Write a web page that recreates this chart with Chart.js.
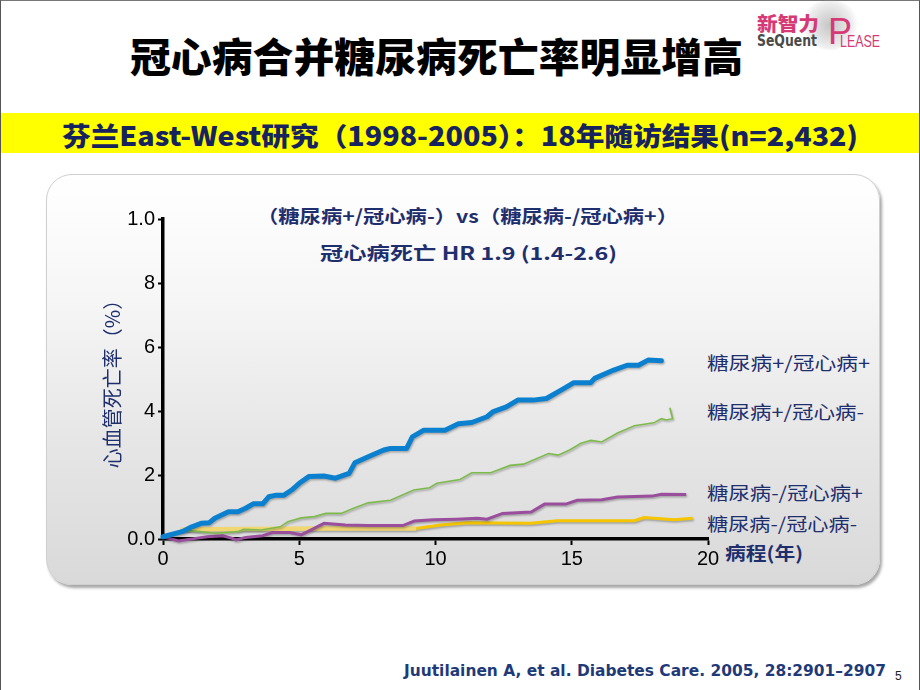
<!DOCTYPE html>
<html>
<head>
<meta charset="utf-8">
<script src="https://cdn.jsdelivr.net/npm/chart.js@4.4.1/dist/chart.umd.min.js"></script>
<style>
  html,body{margin:0;padding:0;}
  body{width:920px;height:690px;position:relative;overflow:hidden;background:#fff;font-family:"Noto Sans CJK SC","Noto Sans",sans-serif;}
  .frame{position:absolute;left:0;top:0;width:918px;height:690px;border-left:1px solid #555;border-right:1px solid #555;border-top:1px solid #777;box-sizing:content-box;}
  .t{position:absolute;white-space:nowrap;line-height:1;}
  #title{left:130px;top:35px;font-size:40px;font-weight:900;color:#000;}
  #banner{position:absolute;left:1px;top:113px;width:918px;height:40px;background:#ffff00;}
  #bannerText{left:62px;top:122px;font-size:26px;font-weight:900;color:#16235f;}
  #panel{position:absolute;left:46px;top:174px;width:832px;height:409px;border-radius:26px;
     background:linear-gradient(#ffffff 0%,#f6f6f6 30%,#e6e6e6 65%,#d9d9d9 100%);
     border:1px solid #cfcfcf;box-shadow:2px 3px 3px rgba(0,0,0,0.35);}
  #cv{position:absolute;left:0;top:0;}
  .ann{font-size:18px;font-weight:700;color:#1f2f6e;}
  .lab{font-size:18px;color:#1f2f6e;}
  #foot{left:404px;top:664px;font-size:15px;font-weight:700;color:#1f3a78;font-family:"DejaVu Sans",sans-serif;}
  #pg{left:895px;top:670px;font-size:12px;color:#222;font-family:"Liberation Sans",sans-serif;}
  #logoDots{position:absolute;left:800px;top:0px;width:60px;height:50px;border-radius:50%;
     background:radial-gradient(circle,rgba(150,150,150,0.55) 0%,rgba(180,180,180,0.25) 55%,rgba(255,255,255,0) 72%);}
</style>
</head>
<body>
<div class="frame"></div>
<div id="logoDots"></div>
<div class="t" style="left:757px;top:13px;font-size:19px;font-weight:900;color:#d63a76;" data-w="62">新智力</div>
<div class="t" style="left:757px;top:34px;font-size:15px;font-weight:700;color:#4a4a4a;font-family:'DejaVu Sans',sans-serif;" data-w="60">SeQuent</div>
<div class="t" style="left:828px;top:14px;font-size:36px;color:#d63a76;font-family:'Liberation Sans',sans-serif;">P</div>
<div class="t" style="left:840px;top:33px;font-size:17px;color:#d63a76;font-family:'Liberation Sans',sans-serif;" data-w="40">LEASE</div>

<div class="t" id="title" data-w="613">冠心病合并糖尿病死亡率明显增高</div>
<div id="banner"></div>
<div class="t" id="bannerText" data-w="796">芬兰East-West研究（1998-2005）：18年随访结果(n=2,432)</div>
<div id="panel"></div>

<div class="t ann" style="left:257px;top:206px;" data-w="421">（糖尿病+/冠心病-）vs（糖尿病-/冠心病+）</div>
<div class="t ann" style="left:320px;top:243px;" data-w="297">冠心病死亡 HR 1.9 (1.4-2.6)</div>

<div class="t lab" style="left:707px;top:353px;" data-w="163">糖尿病+/冠心病+</div>
<div class="t lab" style="left:707px;top:402px;" data-w="157">糖尿病+/冠心病-</div>
<div class="t lab" style="left:707px;top:483px;" data-w="156">糖尿病-/冠心病+</div>
<div class="t lab" style="left:707px;top:514px;" data-w="150">糖尿病-/冠心病-</div>
<div class="t ann" style="left:725px;top:543px;" data-w="78">病程(年)</div>

<div class="t" id="foot" data-w="482">Juutilainen A, et al. Diabetes Care. 2005, 28:2901–2907</div>
<div class="t" id="pg">5</div>

<canvas id="cv" width="920" height="690"></canvas>

<script>
// ---------- data ----------
const xTickLabels = ['0', '5', '10', '15', '20'];
const yTickLabels = ['0.0', '2', '4', '6', '8', '1.0'];
const seriesNames = ['糖尿病+/冠心病+', '糖尿病+/冠心病-', '糖尿病-/冠心病+', '糖尿病-/冠心病-'];

const yearsDMpCHDp = [0, 0.7, 1.06, 1.4, 1.7, 1.9, 2.4, 2.75, 3.03, 3.31, 3.66, 3.88, 4.16, 4.44, 4.72, 5.0, 5.35, 5.9, 6.33, 6.83, 7.04, 7.53, 8.1, 8.35, 8.94, 9.15, 9.57, 10.35, 10.84, 11.33, 11.89, 12.1, 12.6, 13.02, 13.58, 14.07, 14.64, 15.06, 15.69, 15.84, 16.54, 17.03, 17.45, 17.8, 18.29];
const rateDMpCHDp  = [0.07, 0.23, 0.38, 0.49, 0.51, 0.65, 0.85, 0.85, 0.96, 1.1, 1.1, 1.32, 1.37, 1.37, 1.53, 1.74, 1.95, 1.97, 1.9, 2.05, 2.38, 2.57, 2.78, 2.83, 2.83, 3.19, 3.4, 3.4, 3.6, 3.64, 3.82, 3.97, 4.13, 4.34, 4.34, 4.39, 4.67, 4.88, 4.88, 5.02, 5.28, 5.43, 5.43, 5.59, 5.57];

const yearsDMpCHDn = [0, 0.71, 1.35, 1.9, 2.3, 2.75, 2.96, 3.6, 4.3, 4.58, 5.07, 5.56, 5.98, 6.54, 6.97, 7.53, 8.35, 9.2, 9.78, 10.05, 10.9, 11.33, 12.03, 12.74, 13.23, 14.15, 14.5, 14.92, 15.34, 15.7, 16.1, 16.68, 17.3, 18.01, 18.29, 18.47, 18.7, 18.6];
const rateDMpCHDn  = [0.07, 0.28, 0.23, 0.18, 0.2, 0.23, 0.3, 0.28, 0.38, 0.54, 0.66, 0.7, 0.8, 0.8, 0.95, 1.13, 1.21, 1.53, 1.6, 1.74, 1.86, 2.07, 2.07, 2.3, 2.34, 2.67, 2.62, 2.78, 2.99, 3.08, 3.03, 3.31, 3.54, 3.63, 3.76, 3.72, 3.76, 4.1];

const yearsDMnCHDp = [0, 0.57, 1.2, 1.63, 2.19, 2.54, 2.68, 3.03, 3.66, 4.02, 4.65, 5.07, 5.42, 5.91, 6.69, 7.53, 8.8, 9.22, 9.92, 10.77, 11.54, 11.89, 12.46, 13.51, 14.0, 14.78, 15.2, 16.1, 16.68, 17.94, 18.29, 19.2];
const rateDMnCHDp  = [0.07, -0.06, 0.02, 0.07, 0.1, 0.02, -0.03, 0.05, 0.1, 0.2, 0.2, 0.13, 0.28, 0.49, 0.44, 0.42, 0.42, 0.56, 0.6, 0.62, 0.65, 0.62, 0.8, 0.84, 1.09, 1.09, 1.21, 1.23, 1.31, 1.34, 1.4, 1.39];

const yearsDMnCHDn = [0.65, 3.0, 6.0, 9.3, 9.6, 10.2, 11.2, 13.5, 14.47, 17.3, 17.65, 18.75, 19.44];
const rateDMnCHDn  = [0.3, 0.31, 0.33, 0.33, 0.37, 0.44, 0.51, 0.49, 0.57, 0.57, 0.67, 0.6, 0.65];
const paleUntilYear = 9.3;

// ---------- build ----------
const pts = (xs, ys) => xs.map((x, i) => ({x: x, y: ys[i]}));
const navy = '#1f2f6e';

// soft grey shadow under the curves, as in the reference
const lineShadow = {
  id: 'lineShadow',
  beforeDatasetDraw(chart) {
    const c = chart.ctx; c.save();
    c.shadowColor = 'rgba(0,0,0,0.28)'; c.shadowBlur = 2; c.shadowOffsetX = 1; c.shadowOffsetY = 1.5;
  },
  afterDatasetDraw(chart) { chart.ctx.restore(); }
};

const cfg = {
  type: 'scatter',
  data: {
    datasets: [
      {label: seriesNames[0], data: pts(yearsDMpCHDp, rateDMpCHDp), showLine: true, borderColor: '#0b80cf', borderWidth: 5, pointRadius: 0, clip: false, borderJoinStyle: 'round', borderCapStyle: 'round'},
      {label: seriesNames[1], data: pts(yearsDMpCHDn, rateDMpCHDn), showLine: true, borderColor: '#7dba4c', borderWidth: 1.6, pointRadius: 0, clip: false},
      {label: seriesNames[2], data: pts(yearsDMnCHDp, rateDMnCHDp), showLine: true, borderColor: '#9a4f9c', borderWidth: 3, pointRadius: 0, clip: false},
      {label: seriesNames[3], data: pts(yearsDMnCHDn, rateDMnCHDn), showLine: true, borderColor: '#f4c500', borderWidth: 3, pointRadius: 0, clip: false,
        segment: {borderColor: c => (c.p1.parsed.x <= paleUntilYear ? '#f1d772' : '#f4c500'),
                  borderWidth: c => (c.p1.parsed.x <= paleUntilYear ? 4.5 : 3)}}
    ]
  },
  options: {
    responsive: false,
    animation: false,
    devicePixelRatio: 1,
    layout: {padding: {left: 94, right: 212, top: 219, bottom: 111}},
    plugins: {legend: {display: false}, tooltip: {enabled: false}},
    scales: {
      x: {
        type: 'linear', min: 0, max: 20,
        afterFit: s => { s.height = 40; },
        ticks: {stepSize: 5, color: '#000', padding: 2, font: {family: 'Liberation Sans', size: 20},
                callback: (v, i) => xTickLabels[i]},
        grid: {display: true, drawOnChartArea: false, drawTicks: true, tickLength: 6, tickWidth: 2, tickColor: '#000', color: '#000'},
        border: {display: true, color: '#000', width: 3.5}
      },
      y: {
        type: 'linear', min: 0, max: 10,
        afterFit: s => { s.width = 69; },
        ticks: {stepSize: 2, color: '#000', padding: 3, font: {family: 'Liberation Sans', size: 20},
                callback: (v, i) => yTickLabels[i]},
        grid: {display: true, drawOnChartArea: false, drawTicks: true, tickLength: 5, tickWidth: 2, tickColor: '#000', color: '#000'},
        border: {display: true, color: '#000', width: 3.5},
        title: {display: true, text: '心血管死亡率（%）', color: navy, padding: {top: 6, bottom: 0},
                font: {family: 'Noto Sans CJK SC', size: 20}}
      }
    }
  },
  plugins: [lineShadow]
};
new Chart(document.getElementById('cv'), cfg);

// fit text widths to the reference
document.querySelectorAll('[data-w]').forEach(el => {
  const target = parseFloat(el.getAttribute('data-w'));
  const w = el.getBoundingClientRect().width;
  if (w > 0) { el.style.transformOrigin = 'left top'; el.style.transform = 'scaleX(' + (target / w) + ')'; }
});
</script>
</body>
</html>
